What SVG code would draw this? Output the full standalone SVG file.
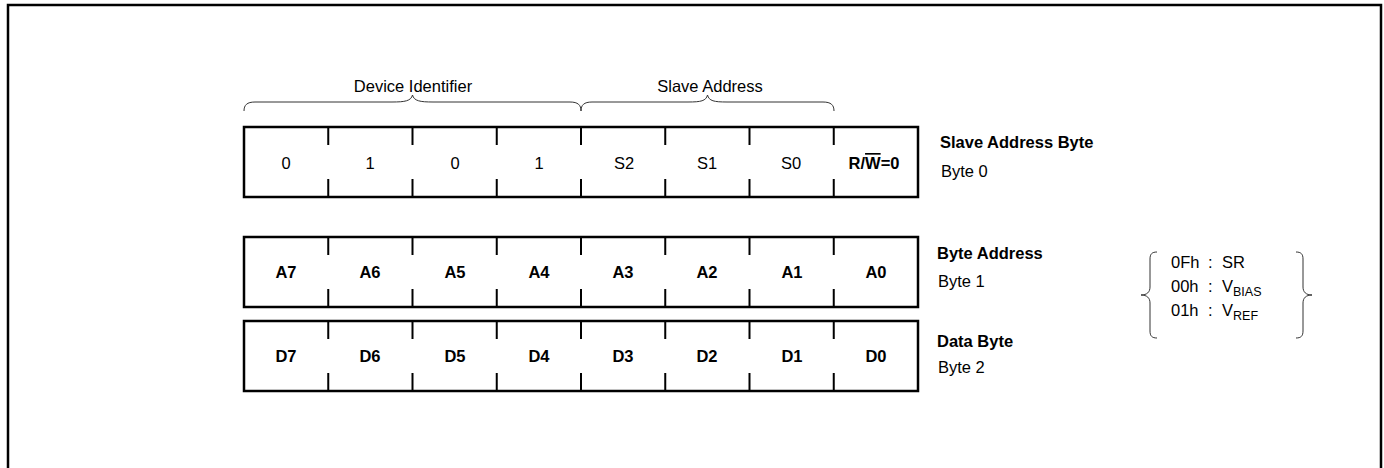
<svg xmlns="http://www.w3.org/2000/svg" width="1384" height="468" viewBox="0 0 1384 468">
<style>
text{font-family:"Liberation Sans",Arial,sans-serif;font-size:16.5px;fill:#000}
.b{font-weight:bold}
.c{text-anchor:middle}
.sub{font-size:12.5px}
.box{fill:#fff;stroke:#000;stroke-width:2.5}
.tick{stroke:#000;stroke-width:2}
.brace{fill:none;stroke:#333;stroke-width:1}
</style>
<defs>
<g id="ticks">
<path class="tick" d="M328.25,0v18M412.5,0v18M496.75,0v18M581,0v18M665.25,0v18M749.5,0v18M833.75,0v18M328.25,52v18M412.5,52v18M496.75,52v18M581,52v18M665.25,52v18M749.5,52v18M833.75,52v18"/>
</g>
</defs>
<rect x="8" y="5" width="1373" height="520" fill="none" stroke="#000" stroke-width="2.5"/>
<g id="labels">
<text class="c" x="413" y="92">Device Identifier</text>
<text class="c" x="710" y="92">Slave Address</text>
</g>
<g id="connectors">
<path class="brace" d="M244,111 C244,105 247,102 255,102 L392,102 C405,102 411,101 412.5,95 C414,101 420,102 433,102 L570,102 C578,102 581,105 581,111"/>
<path class="brace" d="M581,111 C581,105 584,102 592,102 L688,102 C701,102 706,101 707.5,95 C709,101 714,102 727,102 L823,102 C831,102 834,105 834,111"/>
<path class="brace" d="M1157,252 C1152,252 1150,254 1150,259 L1150,287 C1150,292 1147,295 1141,295 C1147,295 1150,298 1150,303 L1150,331 C1150,336 1152,338 1157,338"/>
<path class="brace" d="M1296,252 C1301,252 1303,254 1303,259 L1303,287 C1303,292 1306,295 1312,295 C1306,295 1303,298 1303,303 L1303,331 C1303,336 1301,338 1296,338"/>
</g>
<g id="byte0">
<rect class="box" x="244" y="127" width="674" height="70"/>
<use href="#ticks" y="127"/>
<text class="c" x="286" y="169">0</text>
<text class="c" x="370" y="169">1</text>
<text class="c" x="455" y="169">0</text>
<text class="c" x="539" y="169">1</text>
<text class="c" x="624" y="169">S2</text>
<text class="c" x="707" y="169">S1</text>
<text class="c" x="791" y="169">S0</text>
<text class="c b" x="874" y="169">R/<tspan style="text-decoration:overline">W</tspan>=0</text>
<text class="b" x="940" y="148">Slave Address Byte</text>
<text x="941" y="177">Byte 0</text>
</g>
<g id="byte1">
<rect class="box" x="244" y="237" width="674" height="70"/>
<use href="#ticks" y="237"/>
<text class="c b" x="286" y="278">A7</text>
<text class="c b" x="370" y="278">A6</text>
<text class="c b" x="455" y="278">A5</text>
<text class="c b" x="539" y="278">A4</text>
<text class="c b" x="623" y="278">A3</text>
<text class="c b" x="707" y="278">A2</text>
<text class="c b" x="792" y="278">A1</text>
<text class="c b" x="876" y="278">A0</text>
<text class="b" x="937" y="259">Byte Address</text>
<text x="938" y="287">Byte 1</text>
</g>
<g id="regs">
<text x="1171" y="268"><tspan>0Fh</tspan><tspan x="1208">:</tspan><tspan x="1222">SR</tspan></text>
<text x="1171" y="292"><tspan>00h</tspan><tspan x="1208">:</tspan><tspan x="1222">V</tspan><tspan class="sub" dy="4">BIAS</tspan></text>
<text x="1171" y="316"><tspan>01h</tspan><tspan x="1208">:</tspan><tspan x="1222">V</tspan><tspan class="sub" dy="4">REF</tspan></text>
</g>
<g id="byte2">
<rect class="box" x="244" y="321" width="674" height="70"/>
<use href="#ticks" y="321"/>
<text class="c b" x="286" y="362">D7</text>
<text class="c b" x="370" y="362">D6</text>
<text class="c b" x="455" y="362">D5</text>
<text class="c b" x="539" y="362">D4</text>
<text class="c b" x="623" y="362">D3</text>
<text class="c b" x="707" y="362">D2</text>
<text class="c b" x="792" y="362">D1</text>
<text class="c b" x="876" y="362">D0</text>
<text class="b" x="937" y="347">Data Byte</text>
<text x="938" y="373">Byte 2</text>
</g>
</svg>
